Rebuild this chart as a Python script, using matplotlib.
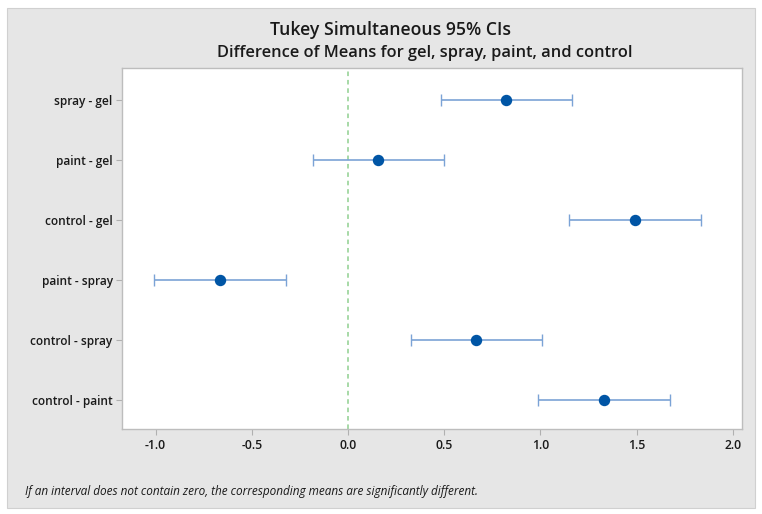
import numpy as np
import matplotlib.pyplot as plt
from matplotlib.patches import Rectangle

# Tukey pairwise comparisons
pairs = ["spray - gel", "paint - gel", "control - gel",
         "paint - spray", "control - spray", "control - paint"]
diff = [0.823, 0.158, 1.491, -0.665, 0.667, 1.330]
lower = [0.481, -0.184, 1.150, -1.006, 0.326, 0.989]
upper = [1.166, 0.500, 1.834, -0.322, 1.010, 1.675]
xticks = [-1.0, -0.5, 0.0, 0.5, 1.0, 1.5, 2.0]

plt.rcParams['font.family'] = ['Open Sans', 'DejaVu Sans']

fig = plt.figure(figsize=(7.62, 5.14), dpi=100)
fig.patch.set_facecolor("white")
# grey panel behind everything
fig.patches.append(Rectangle((7 / 762, 1 - 508 / 514), 748 / 762, 500 / 514,
                             transform=fig.transFigure, facecolor="#e6e6e6",
                             edgecolor="#d0d0d0", linewidth=0.8, zorder=-10))

ax = fig.add_axes([0.1597, 0.1654, 0.8143, 0.7023])
ax.set_facecolor("white")

y = np.arange(len(pairs))
d = np.array(diff)
err = [d - np.array(lower), np.array(upper) - d]
ax.errorbar(d, y, xerr=err, fmt="none", ecolor="#7ba3d6", elinewidth=1.2,
            capsize=4.5, capthick=1.0, zorder=2)
ax.plot(d, y, "o", color="#0055a5", markersize=7.2, zorder=3)
ax.axvline(0, color="#8fcf8f", linestyle=(0, (3, 2.5)), linewidth=1.1, zorder=1)

ax.set_xlim(-1.176, 2.048)
ax.set_ylim(5.48, -0.53)
ax.set_yticks(y)
ax.set_yticklabels(pairs, fontsize=8.6, fontweight="semibold", color="#1a1a1a")
ax.set_xticks(xticks)
ax.set_xticklabels([f"{v:.1f}" for v in xticks], fontsize=8.8,
                   fontweight="semibold", color="#1a1a1a")
ax.tick_params(axis="both", direction="out", length=4, color="#b0b0b0", width=0.8)
ax.tick_params(axis="y", pad=2.5)
for s in ax.spines.values():
    s.set_color("#bdbdbd")
    s.set_linewidth(1.0)

fig.text(390 / 762, 1 - 30 / 514, "Tukey Simultaneous 95% CIs", ha="center",
         va="center", fontsize=12.7, fontweight="semibold", color="#1a1a1a")
fig.text(425 / 762, 1 - 53 / 514, "Difference of Means for gel, spray, paint, and control",
         ha="center", va="center", fontsize=11.8, fontweight="semibold", color="#1a1a1a")
fig.text(25 / 762, 1 - 492 / 514,
         "If an interval does not contain zero, the corresponding means are significantly different.",
         ha="left", va="center", fontsize=8.5, style="italic", color="#1a1a1a")

fig.savefig("out.png", dpi=100, facecolor=fig.get_facecolor())
